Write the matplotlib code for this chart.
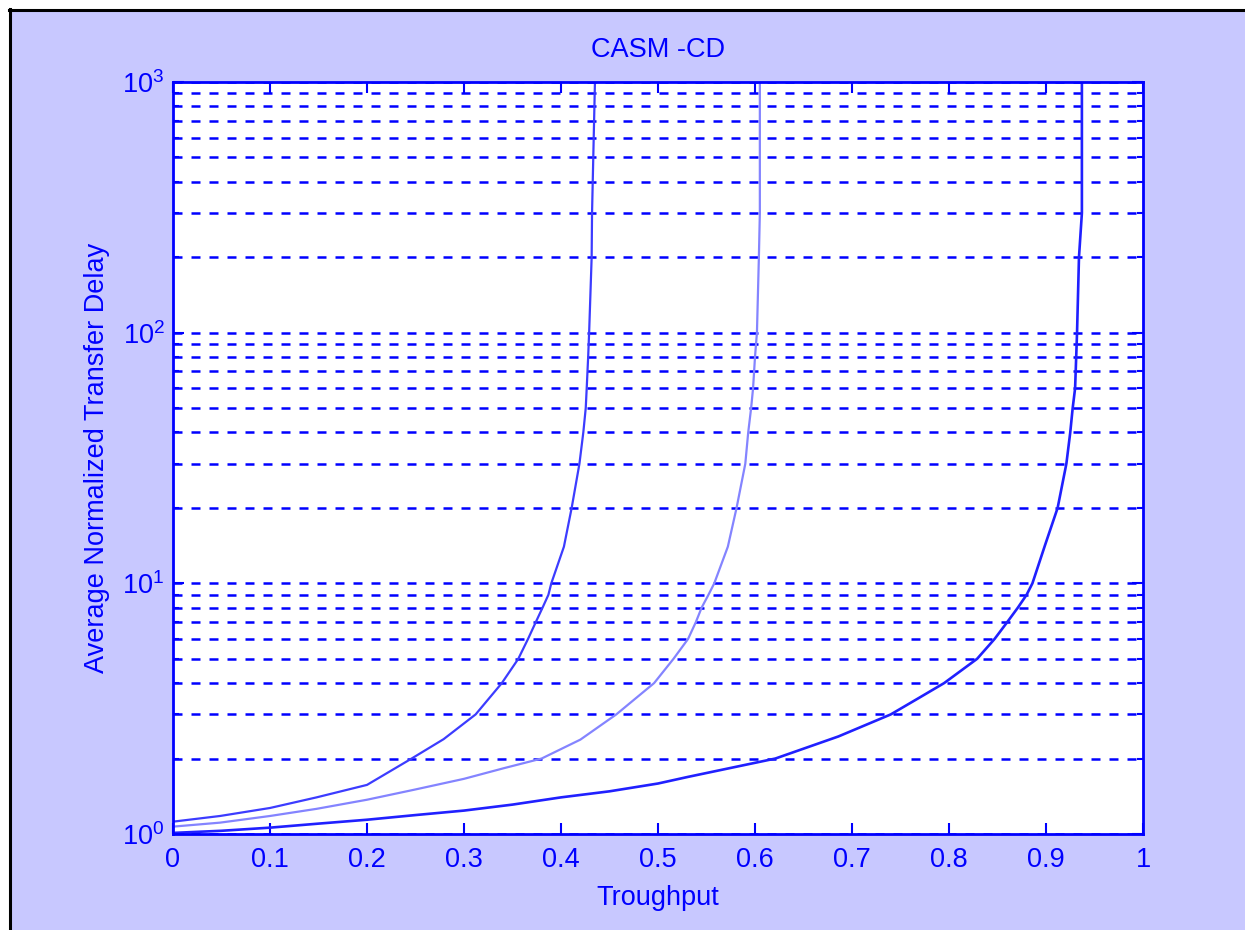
import matplotlib
matplotlib.use('Agg')
import matplotlib.pyplot as plt
from matplotlib.patches import Rectangle
from matplotlib.lines import Line2D

# Curves: throughput vs average normalized delay
thr_1 = [0.0, 0.0485, 0.1, 0.148, 0.2, 0.246, 0.279, 0.312, 0.339, 0.356, 0.366,
         0.374, 0.381, 0.387, 0.390, 0.403, 0.411, 0.419, 0.423, 0.4255, 0.4265,
         0.428, 0.429, 0.4316, 0.432, 0.435]
del_1 = [1.12, 1.18, 1.27, 1.40, 1.57, 2.0, 2.39, 3.0, 4.0, 5.0, 6.0,
         7.0, 8.0, 9.0, 10.0, 14.0, 20.0, 30.0, 40.0, 50.0, 60.0,
         80.0, 100.0, 200.0, 300.0, 1000.0]

thr_2 = [0.0, 0.0485, 0.1, 0.148, 0.2, 0.248, 0.3, 0.341, 0.380, 0.42, 0.457,
         0.496, 0.516, 0.531, 0.539, 0.545, 0.552, 0.558, 0.572, 0.581, 0.590,
         0.593, 0.596, 0.598, 0.600, 0.602, 0.604, 0.605, 0.605]
del_2 = [1.07, 1.11, 1.18, 1.26, 1.37, 1.50, 1.66, 1.83, 2.0, 2.38, 3.0,
         4.0, 5.0, 6.0, 7.0, 8.0, 9.0, 10.0, 14.0, 20.0, 30.0,
         40.0, 50.0, 60.0, 80.0, 100.0, 200.0, 300.0, 1000.0]

thr_3 = [0.0, 0.05, 0.1, 0.15, 0.2, 0.25, 0.3, 0.35, 0.4, 0.45, 0.5, 0.531,
         0.621, 0.686, 0.740, 0.769, 0.795, 0.829, 0.847, 0.860, 0.871, 0.880,
         0.886, 0.899, 0.912, 0.921, 0.925, 0.9275, 0.930, 0.932, 0.934, 0.937,
         0.937]
del_3 = [1.01, 1.03, 1.06, 1.10, 1.14, 1.19, 1.24, 1.31, 1.40, 1.48, 1.59, 1.69,
         2.0, 2.45, 3.0, 3.49, 4.0, 5.0, 6.0, 7.0, 8.0, 9.0,
         10.0, 14.2, 20.0, 30.0, 40.0, 50.0, 60.0, 100.0, 200.0, 300.0,
         1000.0]

x_ticks = [0, 0.1, 0.2, 0.3, 0.4, 0.5, 0.6, 0.7, 0.8, 0.9, 1]
x_labels = ['0', '0.1', '0.2', '0.3', '0.4', '0.5', '0.6', '0.7', '0.8', '0.9', '1']

blue = '#0000ff'
plt.rcParams['font.family'] = ['Liberation Sans', 'DejaVu Sans']
plt.rcParams['mathtext.default'] = 'regular'
plt.rcParams['font.size'] = 19.5

W, H = 1245, 930
fig = plt.figure(figsize=(W / 100, H / 100), dpi=100)
fig.patch.set_facecolor('white')

# lavender figure background with a black edge on the left and top
fig.patches.append(Rectangle((11 / W, 0), 1 - 11 / W, 1 - 11 / H,
                             transform=fig.transFigure, facecolor='#c8c8ff',
                             edgecolor='none', zorder=-10))
fig.add_artist(Line2D([10 / W, 10 / W], [0, 1 - 9 / H], color='black', lw=2.2,
                      transform=fig.transFigure))
fig.add_artist(Line2D([9 / W, 1], [1 - 10 / H, 1 - 10 / H], color='black', lw=2.2,
                      transform=fig.transFigure))

ax = fig.add_axes([173 / W, (H - 834) / H, (1143 - 173) / W, (834 - 82) / H])
ax.set_facecolor('white')

ax.plot(thr_1, del_1, color='#3c3cff', lw=1.6)
ax.plot(thr_2, del_2, color='#8484ff', lw=1.6)
ax.plot(thr_3, del_3, color='#2020ff', lw=1.9)

ax.set_yscale('log')
ax.set_xlim(0, 1)
ax.set_ylim(1, 1000)
ax.set_xticks(x_ticks)
ax.set_xticklabels(x_labels)

ax.grid(True, axis='y', which='both', color=blue, lw=1.8, linestyle=(0, (3.6, 3.6)))
ax.grid(False, axis='x')

for s in ax.spines.values():
    s.set_color(blue)
    s.set_linewidth(2)

ax.tick_params(which='both', direction='in', top=True, right=True,
               colors=blue, width=1.5)
ax.tick_params(which='major', length=8)
ax.tick_params(axis='x', which='major', pad=9)
ax.tick_params(axis='y', which='major', pad=6)
ax.tick_params(which='minor', length=4)
ax.tick_params(axis='x', which='minor', bottom=False, top=False)

ax.set_title('CASM -CD', color=blue, pad=18, fontsize=19.5)
ax.set_xlabel('Troughput', color=blue, labelpad=9)
ax.set_ylabel('Average Normalized Transfer Delay', color=blue, labelpad=9)

fig.savefig('out.png', dpi=100, facecolor=fig.get_facecolor())
